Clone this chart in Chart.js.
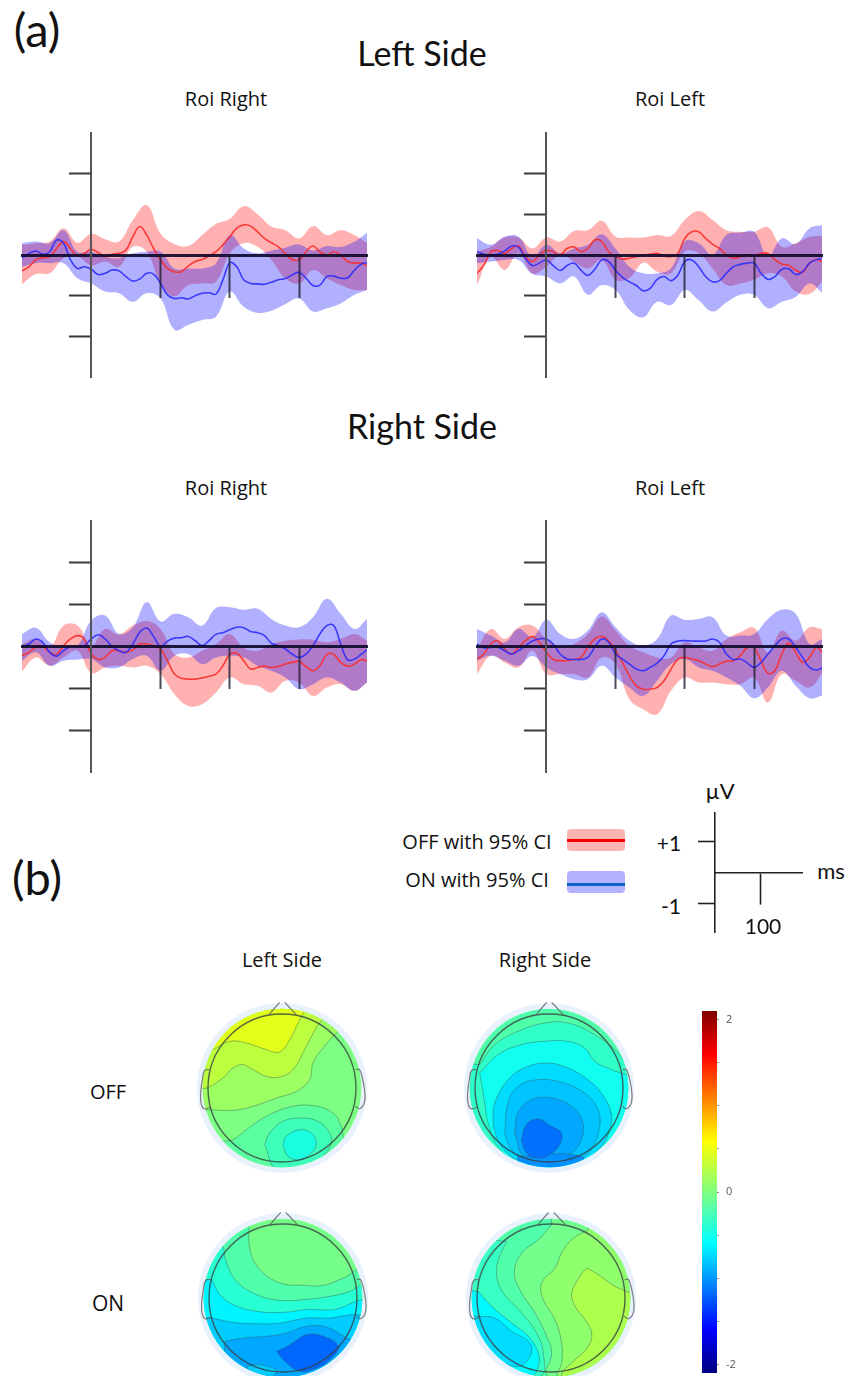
<!DOCTYPE html>
<html>
<head>
<meta charset="utf-8">
<title>ERP and topographies</title>
<script src="https://cdn.jsdelivr.net/npm/chart.js@4/dist/chart.umd.min.js"></script>
<style>
html,body{margin:0;padding:0;background:#fff;}
#page{position:relative;width:859px;height:1376px;overflow:hidden;background:#fff;}
#page canvas{position:absolute;}
.txt{position:absolute;transform:translate(-50%,-50%);white-space:nowrap;color:#111;font-family:Lato,sans-serif;}
.swatch{position:absolute;border-radius:4px;}
.swline{position:absolute;height:3px;}
</style>
</head>
<body>
<div id="page"></div>
<script>
// time axes (ms)
const meanTimes = [-100,-90,-80,-70,-60,-50,-40,-30,-20,-10,0,10,20,30,40,50,60,70,80,90,100,110,120,130,140,150,160,170,180,190,200,210,220,230,240,250,260,270,280,290,300,310,320,330,340,350,360,370,380,390,398];
const bandTimes = [-100,-80,-60,-40,-20,0,20,40,60,80,100,120,140,160,180,200,220,240,260,280,300,320,340,360,380,398];
const erpXTicks = [100,200,300];
const erpYTicks = [-2,-1,1,2];

// Left Side / Roi Right (uV)
const lrOffMean = [-.39,-.29,-.12,-.07,-.04,.16,.33,.16,-.02,.04,.14,.06,-.04,.02,.04,.12,.45,.70,.49,.16,-.12,-.33,-.41,-.41,-.27,-.16,-.11,-.02,.08,.25,.45,.66,.74,.71,.57,.41,.30,.20,.04,-.11,-.12,.08,.22,.08,0,.08,0,-.16,-.20,-.19,-.27];
const lrOnMean = [-.07,.04,.10,.02,.08,.37,.29,-.12,-.33,-.29,-.35,-.48,-.45,-.37,-.39,-.53,-.64,-.59,-.45,-.47,-.70,-.98,-1.07,-1.05,-1.08,-1.00,-.94,-.93,-.96,-.61,-.19,-.29,-.61,-.70,-.71,-.72,-.67,-.61,-.58,-.49,-.43,-.57,-.75,-.74,-.53,-.52,-.57,-.56,-.37,-.22,-.19];
const lrOffUpper = [.25,.29,.33,.66,.30,.52,.39,.33,.86,1.23,.53,.27,.22,.49,.76,.89,1.20,1.00,.70,.61,.41,.71,.49,.61,.49,.29];
const lrOffLower = [-.72,-.47,-.45,-.08,-.04,-.25,-.16,-.29,.20,.08,-.70,-1.02,-.74,-.70,-.66,.04,.29,.20,-.12,-.57,-.70,-.37,-.57,-.74,-.86,-.86];
const lrOnUpper = [.29,.33,.29,.61,.08,.08,-.04,-.08,.04,.08,.08,-.33,-.33,-.33,-.20,.49,.16,.04,.11,.18,.26,.11,.22,.20,.33,.55];
const lrOnLower = [-.29,-.20,-.20,-.20,-.57,-.70,-.90,-.94,-1.15,-.94,-1.07,-1.84,-1.72,-1.60,-1.52,-.90,-1.27,-1.42,-1.37,-1.21,-1.07,-1.39,-1.31,-1.19,-.98,-.86];

// Left Side / Roi Left
const llOffMean = [-.45,-.25,.08,.11,.04,.16,.22,-.04,-.16,0,.11,.08,0,.16,.20,.08,.16,.37,.33,.08,-.04,-.10,-.08,-.04,0,.02,.04,-.02,-.04,.04,.41,.57,.57,.41,.27,.16,0,-.08,-.04,0,-.02,.04,.04,-.12,-.22,-.26,-.37,-.43,-.20,-.11,-.16];
const llOnMean = [.08,.02,0,.02,.10,.22,.19,-.08,-.26,-.20,-.12,-.26,-.38,-.26,-.20,-.37,-.50,-.35,-.12,-.16,-.38,-.55,-.66,-.75,-.88,-.82,-.60,-.53,-.63,-.49,-.16,-.12,-.29,-.53,-.66,-.63,-.45,-.29,-.23,-.20,-.20,-.45,-.60,-.53,-.35,-.34,-.48,-.41,-.20,-.12,-.08];
const llOffUpper = [.08,.20,.43,.43,.16,.43,.33,.59,.61,.84,.45,.43,.43,.49,.47,.86,1.08,.86,.61,.57,.57,.68,.20,.29,.45,.47];
const llOffLower = [-.74,-.04,-.37,.04,-.45,-.29,0,-.16,-.33,-.12,-.60,-.57,-.19,-.41,-.45,.08,.04,-.33,-.74,-.70,-.61,-.45,-.53,-.90,-.96,-.66];
const llOnUpper = [.41,.25,.45,.45,-.04,.25,.04,.16,.25,.51,.16,-.29,-.45,-.45,-.33,.33,.29,0,.49,.55,.57,-.04,.41,.27,.66,.74];
const llOnLower = [-.20,-.16,-.12,-.12,-.47,-.53,-.70,-.53,-.98,-.74,-.86,-1.35,-1.53,-1.15,-1.23,-.86,-1.11,-1.39,-1.17,-.98,-.98,-1.31,-1.15,-1.03,-.70,-.92];

// Right Side / Roi Right
const rrOffMean = [-.22,-.14,-.02,0,-.14,-.19,.02,.18,.26,.18,-.18,-.31,-.26,-.10,-.10,-.14,-.08,.06,.06,.02,-.06,-.34,-.66,-.76,-.78,-.78,-.75,-.71,-.66,-.46,-.19,-.16,-.34,-.54,-.50,-.47,-.50,-.48,-.42,-.38,-.36,-.48,-.58,-.46,-.19,-.19,-.38,-.47,-.42,-.31,-.35];
const rrOnMean = [0,.06,.18,.10,-.14,-.23,-.10,0,0,.02,.18,.28,.18,0,-.10,-.14,.06,.34,.44,.24,0,.13,.20,.21,.24,.14,.02,.14,.29,.33,.40,.46,.45,.36,.33,.26,.08,.02,-.06,-.18,-.26,-.18,.02,.30,.50,.50,.06,-.32,-.30,-.18,-.08];
const rrOffUpper = [.06,.18,-.02,.50,.50,.02,.42,.29,.50,.61,.42,-.18,-.26,-.10,.06,.30,-.03,-.10,.06,.14,.17,.16,.10,.18,.30,.14];
const rrOffLower = [-.59,-.26,-.46,-.26,-.10,-.63,-.50,-.46,-.50,-.46,-.66,-1.14,-1.42,-1.38,-1.10,-.74,-.90,-.94,-1.10,-.82,-.86,-1.18,-.98,-.90,-1.06,-.86];
const rrOnUpper = [.30,.45,.10,-.02,.02,.62,.74,.30,.46,1.06,.60,.78,.70,.50,.92,.94,.88,.90,.66,.50,.46,.70,1.14,.78,.42,.66];
const rrOnLower = [-.34,-.14,-.46,-.34,-.31,-.30,-.50,-.50,-.30,-.22,-.58,-.22,-.18,-.42,-.26,-.22,-.26,-.46,-.58,-.74,-1.02,-.90,-.74,-.86,-1.06,-.86];

// Right Side / Roi Left
const rlOffMean = [-.30,-.18,.06,.14,-.06,-.18,-.02,.14,.24,.10,-.14,-.31,-.34,-.34,-.31,-.26,-.02,.18,.24,.14,-.10,-.38,-.70,-.94,-1.02,-1.02,-.98,-.82,-.54,-.30,-.26,-.30,-.34,-.42,-.48,-.42,-.35,-.34,-.22,-.03,-.03,-.34,-.64,-.58,-.18,.08,-.14,-.38,-.26,-.02,-.14];
const rlOnMean = [.06,-.03,-.02,-.02,-.10,-.18,-.10,.02,.13,.18,.18,.06,-.18,-.30,-.31,-.31,-.26,-.02,.18,.10,-.18,-.30,-.42,-.54,-.58,-.50,-.40,-.22,.06,.13,.14,.13,.13,.13,.18,.10,-.18,-.31,-.30,-.39,-.50,-.38,-.18,.02,.18,.18,-.02,-.26,-.50,-.56,-.51];
const rlOffUpper = [-.06,.42,.18,.46,.50,.18,-.02,.06,.30,.72,.38,.02,-.14,-.26,-.26,.10,-.02,-.10,.18,.34,.45,-.14,.38,.14,.46,.42];
const rlOffLower = [-.66,-.22,-.38,-.50,-.10,-.66,-.66,-.66,-.74,-.26,-.42,-1.26,-1.50,-1.62,-1.06,-.74,-.86,-.86,-.90,-.90,-.74,-1.34,-.66,-.82,-.98,-.66];
const rlOnUpper = [.42,.26,.10,.42,.22,.64,.30,.18,.38,.82,.46,.14,.02,.18,.74,.64,.66,.70,.26,.26,.30,.66,.88,.78,.06,.18];
const rlOnLower = [-.34,-.22,-.34,-.46,-.23,-.50,-.66,-.78,-.78,-.46,-.74,-.98,-1.18,-.82,-.42,-.30,-.50,-.58,-.74,-.94,-1.24,-.98,-.58,-.94,-1.24,-1.18];

// scale bar
const barXTicks = [100];
const barYTicks = [-1,1];

// topography contour regions, head units (outline radius 222, centre 0,0)
const square = [[-400,-400],[400,-400],[400,400],[-400,400]];
const offLeftA = [[-207,115],[-157,140],[-107,135],[-47,115],[-7,108],[23,145],[53,205],[68,235],[68,300],[-300,300],[-300,115]];
const offLeftB = [[-222,0],[-177,30],[-147,60],[-117,70],[-87,55],[-47,35],[-7,33],[33,55],[73,125],[108,190],[123,210],[123,300],[-300,300],[-300,0]];
const offLeftC = [[-217,-65],[-147,-67],[-87,-55],[-17,-30],[43,-10],[83,25],[93,75],[123,120],[163,165],[183,185],[183,300],[-300,300],[-300,-65]];
const offLeftD = [[-190,-160],[-147,-155],[-107,-125],[-47,-85],[23,-57],[93,-53],[153,-75],[178,-115],[183,-145],[200,-300],[-190,-300]];
const offLeftE = [[-52,-170],[-37,-135],[3,-100],[53,-90],[108,-100],[143,-135],[148,-165],[123,-205],[73,-245],[-17,-245]];
const offLeftF = [[3,-170],[13,-145],[53,-125],[88,-135],[103,-165],[88,-195],[53,-215],[18,-205]];

const offRightA = [[-208,70],[-163,130],[-93,170],[-13,195],[57,195],[137,160],[207,105],[237,55],[300,-300],[-300,-300],[-300,70]];
const offRightB = [[-208,45],[-153,100],[-83,130],[-13,140],[57,140],[107,120],[137,80],[187,55],[247,25],[247,-105],[177,-175],[117,-235],[-83,-235],[-153,-175],[-183,-105],[-193,-45]];
const offRightC = [[-168,-115],[-163,-45],[-118,30],[-63,65],[-3,75],[57,60],[117,25],[157,-15],[187,-75],[182,-125],[157,-175],[97,-220],[-83,-220],[-143,-175]];
const offRightD = [[-133,-135],[-123,-45],[-93,5],[-33,25],[37,17],[107,-15],[147,-65],[152,-115],[132,-175],[87,-215],[-63,-220],[-113,-185]];
const offRightE = [[-103,-135],[-93,-75],[-53,-35],[7,-30],[67,-55],[102,-105],[97,-155],[67,-195],[-3,-220],[-73,-210]];
const offRightF = [[-93,-205],[97,-205],[97,-265],[-93,-265]];
const offRightG = [[-83,-155],[-68,-110],[-33,-93],[7,-115],[37,-135],[32,-170],[2,-200],[-33,-210],[-68,-195]];

const onLeftA = [[-101,235],[-99,145],[-69,85],[-9,45],[61,38],[121,38],[181,60],[261,95],[300,-300],[-300,-300],[-300,235]];
const onLeftB = [[-179,155],[-169,105],[-139,50],[-79,10],[-9,-7],[61,-5],[141,5],[201,20],[261,45],[300,-300],[-300,-300],[-300,155]];
const onLeftC = [[-214,55],[-189,10],[-149,-20],[-79,-40],[1,-43],[71,-35],[151,-35],[251,-15],[300,-300],[-300,-300],[-300,55]];
const onLeftD = [[-214,-60],[-149,-73],[-79,-77],[-9,-75],[71,-60],[141,-60],[221,-50],[251,-65],[300,-300],[-300,-300],[-300,-60]];
const onLeftE = [[-174,-130],[-119,-120],[-49,-115],[11,-105],[71,-85],[131,-87],[191,-120],[221,-135],[300,-300],[-174,-300]];
const onLeftF = [[-19,-160],[21,-140],[71,-110],[121,-115],[166,-145],[141,-185],[101,-210],[51,-220],[1,-185]];
const onLeftG = [[-109,-205],[-69,-200],[-19,-220],[-79,-255]];

const onRightA = [[2,220],[-38,175],[-88,135],[-110,75],[-88,15],[-48,-45],[-13,-115],[2,-165],[-8,-235],[300,-300],[300,300],[2,300]];
const onRightB = [[112,205],[62,175],[32,135],[12,90],[-28,45],[-23,-5],[12,-65],[32,-135],[32,-195],[22,-235],[300,-300],[300,300],[112,300]];
const onRightC = [[107,90],[87,65],[62,15],[72,-25],[102,-65],[122,-105],[112,-145],[62,-195],[32,-230],[50,-300],[300,-300],[300,0],[242,15],[192,35],[142,70]];
const onRightD = [[-133,170],[-158,115],[-163,65],[-143,15],[-88,-45],[-43,-105],[-23,-165],[-33,-235],[-300,-300],[-300,170]];
const onRightE = [[-218,20],[-178,-25],[-118,-75],[-68,-115],[-38,-165],[-38,-205],[-58,-235],[-300,-300],[-300,20]];
const onRightF = [[-213,-55],[-168,-60],[-118,-100],[-63,-135],[-63,-175],[-98,-205],[-158,-185],[-213,-135],[-300,-135],[-300,-55]];

const headNose = [[-39,220],[-7,257]];
const headNose2 = [[8,257],[43,220]];
const earLeft = [[-217,55],[-232,53],[-239,25],[-244,-15],[-242,-50],[-232,-63],[-215,-57]];
const earRight = [[221,55],[233,55],[246,5],[248,-40],[233,-62],[220,-55]];

// colour bar
const colorbarTicks = [-2,-1.5,-1,-.5,0,.5,1,1.5,2];
const colorbarLabels = ['-2','0','2'];
const jetStops = [0,.12,.36,.5,.64,.88,1];
const jetColors = ['#7f0000','#ff0000','#ffff00','#80ff80','#00ffff','#0000ff','#00007f'];

const page = document.getElementById('page');
const redBand = 'rgba(255,0,0,0.31)', blueBand = 'rgba(0,0,255,0.31)';

function mk(left,top,w,h){
    var c = document.createElement('canvas');
    c.width = w;c.height = h;
    c.style.left = left+'px';c.style.top = top+'px';
    c.style.width = w+'px';c.style.height = h+'px';
    page.appendChild(c);
    return c;
}
function series(times,vals){
    return vals.map((v,i)=>({x:times[i],y:v}));
}
function txt(s,x,y,size,font){
    var d = document.createElement('div');
    d.className = 'txt';
    d.textContent = s;
    d.style.left = x+'px';d.style.top = y+'px';d.style.fontSize = size+'px';
    if(font) d.style.fontFamily = font;
    page.appendChild(d);
}

function erp(left,top,h,d){
    var band = (up,lo,col,n)=>[
        {data:series(bandTimes,up),borderWidth:0,pointRadius:0,fill:'+1',backgroundColor:col,tension:.4,order:n},
        {data:series(bandTimes,lo),borderWidth:0,pointRadius:0,fill:false,tension:.4,order:n}
    ];
    var line = (vals,col,n)=>({data:series(meanTimes,vals),borderColor:col,borderWidth:1.6,pointRadius:0,fill:false,tension:.4,order:n});
    new Chart(mk(left,top,350,h),{
        type:'line',
        data:{datasets:[
            line(d.onMean,'rgba(45,45,250,.9)',1),
            line(d.offMean,'rgba(250,45,45,.9)',2),
            ...band(d.onUp,d.onLo,blueBand,3),
            ...band(d.offUp,d.offLo,redBand,4)
        ]},
        options:{
            responsive:false,animation:false,
            layout:{padding:{left:2,right:3,top:3,bottom:3}},
            plugins:{legend:{display:false},tooltip:{enabled:false}},
            scales:{
                x:{type:'linear',min:-100,max:398,position:{y:0},
                    afterBuildTicks:s=>{s.ticks = erpXTicks.map(v=>({value:v}))},
                    ticks:{display:false},
                    grid:{drawOnChartArea:false,tickLength:41,tickWidth:2,tickColor:'rgba(30,30,50,.8)',z:1},
                    border:{color:'rgba(15,10,45,.92)',width:3,z:2}},
                y:{type:'linear',min:-3,max:3,position:{x:0},
                    afterBuildTicks:s=>{s.ticks = erpYTicks.map(v=>({value:v}))},
                    ticks:{display:false},
                    grid:{drawOnChartArea:false,tickLength:21,tickWidth:2,tickColor:'#3a3a3a',z:1},
                    border:{color:'#555',width:2,z:2}}
            }
        }
    });
}
erp(20,130,250,{offMean:lrOffMean,onMean:lrOnMean,offUp:lrOffUpper,offLo:lrOffLower,onUp:lrOnUpper,onLo:lrOnLower});
erp(475,130,250,{offMean:llOffMean,onMean:llOnMean,offUp:llOffUpper,offLo:llOffLower,onUp:llOnUpper,onLo:llOnLower});
erp(20,518,257,{offMean:rrOffMean,onMean:rrOnMean,offUp:rrOffUpper,offLo:rrOffLower,onUp:rrOnUpper,onLo:rrOnLower});
erp(475,518,257,{offMean:rlOffMean,onMean:rlOnMean,offUp:rlOffUpper,offLo:rlOffLower,onUp:rlOnUpper,onLo:rlOnLower});

// scale bar next to the legend
new Chart(mk(697,808,108,128),{
    type:'line',
    data:{datasets:[]},
    options:{
        responsive:false,animation:false,
        layout:{autoPadding:false,padding:{left:18,right:3,top:5,bottom:4}},
        plugins:{legend:{display:false},tooltip:{enabled:false}},
        scales:{
            x:{type:'linear',min:0,max:190,position:{y:0},
                afterBuildTicks:s=>{s.ticks = barXTicks.map(v=>({value:v}))},
                ticks:{display:false},
                grid:{drawOnChartArea:false,tickLength:31,tickWidth:1.6,tickColor:'#222'},
                border:{color:'#222',width:1.6}},
            y:{type:'linear',min:-1.92,max:1.92,position:{x:0},
                afterBuildTicks:s=>{s.ticks = barYTicks.map(v=>({value:v}))},
                ticks:{display:false},
                grid:{drawOnChartArea:false,tickLength:16,tickWidth:1.6,tickColor:'#222'},
                border:{color:'#222',width:1.6}}
        }
    }
});

// clip the contours to the scalp disk, keep halo and outline outside the clip
const diskClip = {
    id:'diskClip',
    afterDatasetDraw(chart,args){
        if(chart.data.datasets[args.index].role != 'halo') return;
        var s = chart.scales.x,y = chart.scales.y,ctx = chart.ctx;
        ctx.save();
        ctx.beginPath();
        ctx.arc(s.getPixelForValue(0),y.getPixelForValue(0),s.getPixelForValue(238)-s.getPixelForValue(0),0,Math.PI*2);
        ctx.clip();
    },
    beforeDatasetDraw(chart,args){
        if(chart.data.datasets[args.index].role == 'outline') chart.ctx.restore();
    }
};
function head(left,top,regions,colors){
    var sets = [],i = 0;
    var add = (o)=>{o.order = 100-i;i++;sets.push(o)};
    add({role:'halo',data:[{x:0,y:0}],pointRadius:85,pointBackgroundColor:'#e9f1fc',pointBorderWidth:0,showLine:false});
    regions.forEach((r,k)=>{
        add({data:r.concat([r[0]]).map(p=>({x:p[0],y:p[1]})),fill:'shape',backgroundColor:colors[k],
            borderColor:k==0?'transparent':'rgba(60,85,85,.42)',borderWidth:1,pointRadius:0,tension:k==0?0:.4});
    });
    add({role:'outline',data:[{x:0,y:0}],pointRadius:74,pointBackgroundColor:'transparent',pointBorderColor:'rgba(55,65,65,.8)',pointBorderWidth:1.4,showLine:false});
    [headNose,headNose2,earLeft,earRight].forEach(p=>{
        add({data:p.map(q=>({x:q[0],y:q[1]})),borderColor:'rgba(95,95,95,.8)',borderWidth:1.2,pointRadius:0,tension:.4,fill:false});
    });
    new Chart(mk(left,top,194,194),{
        type:'line',
        data:{datasets:sets},
        plugins:[diskClip],
        options:{
            responsive:false,animation:false,
            layout:{autoPadding:false,padding:0},
            plugins:{legend:{display:false},tooltip:{enabled:false}},
            scales:{
                x:{type:'linear',min:-291,max:291,display:false},
                y:{type:'linear',min:-291,max:291,display:false}
            }
        }
    });
}
head(185,991,[square,offLeftC,offLeftB,offLeftA,offLeftD,offLeftE,offLeftF],
    ['#7cff83','#9cff62','#bcff3e','#e2ff1c','#5affa0','#3cffba','#19ffe0']);
head(452,991,[square,offRightA,offRightB,offRightC,offRightD,offRightE,offRightF,offRightG],
    ['#50ffaa','#30ffc8','#10fff0','#00dcff','#00c4ff','#00a8ff','#0090ff','#0070ff']);
head(186,1201,[square,onLeftA,onLeftB,onLeftC,onLeftD,onLeftE,onLeftG,onLeftF],
    ['#75ff88','#50ffaa','#28ffd2','#00f4ff','#00ccff','#00a8ff','#00ccff','#0068ff']);
head(454,1201,[square,onRightA,onRightB,onRightC,onRightD,onRightE,onRightF],
    ['#50ffaa','#72ff8c','#90ff6c','#acff4c','#38ffc4','#00f8ff','#00dcff']);

// colour bar
new Chart(mk(700,1006,47,370),{
    type:'bar',
    data:{labels:[''],datasets:[{
        data:[[-2.1,2.1]],barPercentage:1,categoryPercentage:1,borderWidth:0,
        backgroundColor:(c)=>{
            var a = c.chart.chartArea;
            if(!a) return '#80ff80';
            var g = c.chart.ctx.createLinearGradient(0,a.top,0,a.bottom);
            jetStops.forEach((s,i)=>g.addColorStop(s,jetColors[i]));
            return g;
        }
    }]},
    options:{
        responsive:false,animation:false,
        layout:{autoPadding:false,padding:{left:2,right:0,top:5,bottom:3}},
        plugins:{legend:{display:false},tooltip:{enabled:false}},
        scales:{
            x:{display:false},
            y:{position:'right',min:-2.1,max:2.1,
                afterFit:s=>{s.width = 30;s.paddingTop = 0;s.paddingBottom = 0},
                afterBuildTicks:s=>{s.ticks = colorbarTicks.map(v=>({value:v}))},
                ticks:{autoSkip:false,padding:7,color:'#555',font:{size:11,family:'Open Sans'},
                    callback:v=>colorbarLabels.includes(String(v))?String(v):''},
                grid:{drawOnChartArea:false,tickLength:2,tickColor:'#888'},
                border:{display:false}}
        }
    }
});

// legend swatches
[[829,'#ffb3b3','#f50000',840],[871,'#b3b3ff','#0a64c8',884]].forEach(s=>{
    var b = document.createElement('div');
    b.className = 'swatch';
    b.style.cssText = `left:567px;top:${s[0]}px;width:58px;height:22px;background:${s[1]}`;
    page.appendChild(b);
    var l = document.createElement('div');
    l.className = 'swline';
    l.style.cssText = `left:567px;top:${s[3]-1}px;width:58px;background:${s[2]}`;
    page.appendChild(l);
});

// all the text
txt('(a)',37,29,47);
txt('(b)',37,877,47);
txt('Left Side',422,52,34);
txt('Right Side',422,425,34);
[[226,98],[670,98],[226,487],[670,487]].forEach((p,i)=>{
    txt(i%2==0?'Roi Right':'Roi Left',p[0],p[1],20,'Open Sans');
});
txt('OFF with 95% CI',477,841,20,'Open Sans');
txt('ON with 95% CI',477,879,20,'Open Sans');
txt('µV',720,790,22);
txt('+1',669,842,21);
txt('-1',671,905,21);
txt('ms',831,870,22);
txt('100',763,925,21);
txt('Left Side',282,959,20,'Open Sans');
txt('Right Side',545,959,20,'Open Sans');
txt('OFF',108,1091,20,'Open Sans');
txt('ON',108,1303,21,'Open Sans');
</script>
</body>
</html>
